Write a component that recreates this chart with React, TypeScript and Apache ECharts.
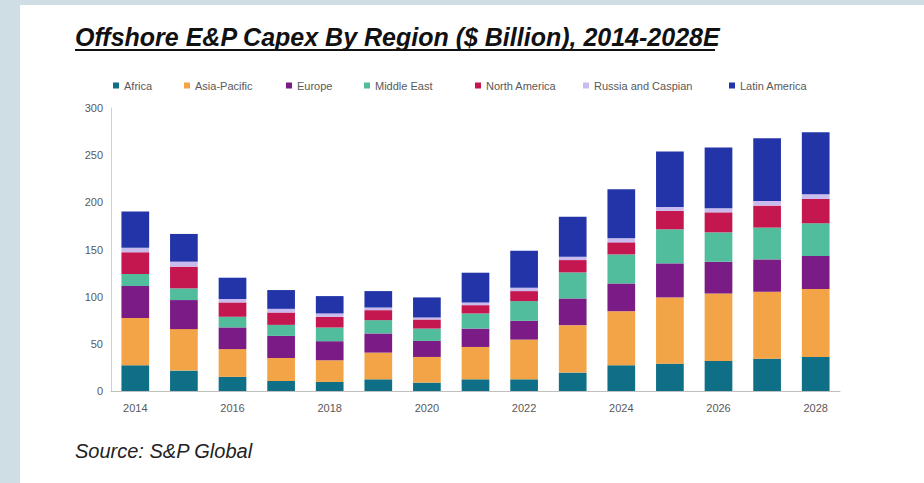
import React, { useEffect, useRef } from "react";
import * as echarts from "echarts";

const years = ["2014","2015","2016","2017","2018","2019","2020","2021","2022","2023","2024","2025","2026","2027","2028"];
const seriesNames = ["Africa","Asia-Pacific","Europe","Middle East","North America","Russia and Caspian","Latin America"];
const africa = [27.3, 21.6, 15, 10.6, 9.6, 12.4, 8.9, 12.4, 12.4, 19.5, 27.3, 29, 31.9, 34.3, 36.1];
const asiaPacific = [50.2, 44, 29.4, 24.4, 23, 28.3, 27.2, 34.3, 42.1, 50.3, 57.3, 70.2, 71.5, 70.9, 71.9];
const europe = [33.7, 30.8, 23, 23.4, 20.2, 20.3, 17, 19.5, 19.9, 28.3, 29.4, 36.1, 33.6, 34.3, 35.1];
const middleEast = [12.7, 12.4, 11.3, 11.7, 14.5, 14.1, 13.1, 16, 20.9, 27.6, 30.8, 36.1, 31.2, 33.7, 34.7];
const northAmerica = [23.1, 23, 15.2, 13.1, 11.3, 10.6, 9.6, 8.8, 10.6, 13.1, 12.8, 19.5, 21.2, 23.3, 25.8];
const russiaCaspian = [4.9, 5.3, 3.6, 3.9, 3.6, 2.8, 2.1, 2.8, 3.5, 3.6, 4.2, 4.2, 4.3, 5, 5];
const latinAmerica = [38.3, 29.4, 22.6, 19.9, 18.4, 17.4, 21.3, 31.6, 39.3, 42.4, 52.1, 58.8, 64.4, 66.5, 65.8];
const yTicks = [0, 50, 100, 150, 200, 250, 300];

const seriesData = [africa, asiaPacific, europe, middleEast, northAmerica, russiaCaspian, latinAmerica];
const colors = ["#0f6f87", "#f2a446", "#7a1b86", "#52bd9c", "#c4174f", "#c9bbee", "#2234a8"];
const legendLeft = [113, 184, 286, 364, 475, 583, 729];

const narrow = "'Liberation Sans Narrow', 'Arial Narrow', 'Liberation Sans', Arial, sans-serif";

export default function App() {
  const ref = useRef<HTMLDivElement>(null);
  useEffect(() => {
    document.body.style.margin = "0";
    const chart = echarts.init(ref.current!, null, { renderer: "svg" });
    chart.setOption({
      animation: false,
      backgroundColor: "#cfdee4",
      graphic: [
        { type: "rect", shape: { x: 20, y: 5, width: 904, height: 478 }, style: { fill: "#ffffff" }, z: -10 },
        {
          type: "text", x: 75, y: 24,
          style: { text: "Offshore E&P Capex By Region ($ Billion), 2014-2028E", fontFamily: narrow, fontSize: 25, fontWeight: "bold", fontStyle: "italic", fill: "#111111" },
        },
        { type: "line", shape: { x1: 75, y1: 50, x2: 715, y2: 50 }, style: { stroke: "#111111", lineWidth: 2 } },
        {
          type: "text", x: 75, y: 441,
          style: { text: "Source: S&P Global", fontFamily: narrow, fontSize: 20, fontStyle: "italic", fill: "#222222" },
        },
      ],
      legend: seriesNames.map((n, i) => ({
        data: [n],
        left: legendLeft[i],
        top: 80,
        padding: 0,
        itemWidth: 6,
        itemHeight: 6,
        icon: "rect",
        selectedMode: false,
        textStyle: { fontFamily: narrow, fontSize: 11, color: "#595959" },
      })),
      grid: { left: 111, right: 84, top: 108, bottom: 92, containLabel: false },
      xAxis: {
        type: "category",
        data: years,
        axisLine: { lineStyle: { color: "#bfbfbf" } },
        axisTick: { show: false },
        axisLabel: { interval: 1, color: "#595959", fontFamily: narrow, fontSize: 11, margin: 11 },
      },
      yAxis: {
        type: "value",
        min: yTicks[0],
        max: yTicks[yTicks.length - 1],
        interval: 50,
        axisLine: { show: true, lineStyle: { color: "#d0d0d0" } },
        axisTick: { show: false },
        splitLine: { show: false },
        axisLabel: { color: "#595959", fontFamily: narrow, fontSize: 11, margin: 8 },
      },
      series: seriesNames.map((n, i) => ({
        name: n,
        type: "bar",
        stack: "total",
        data: seriesData[i],
        barCategoryGap: "43%",
        itemStyle: { color: colors[i] },
      })),
    });
    return () => chart.dispose();
  }, []);
  return <div ref={ref} style={{ width: 924, height: 483 }} />;
}
